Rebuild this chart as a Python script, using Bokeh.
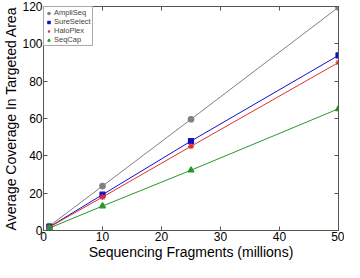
from bokeh.plotting import figure
from bokeh.models import LinearAxis, FixedTicker, Range1d, CustomLabelingPolicy
from bokeh.embed import file_html
from bokeh.resources import INLINE

fragments = [1, 10, 25, 50]
ampliseq = [2.4, 23.8, 59.6, 119.6]
sureselect = [1.9, 19.2, 47.9, 93.8]
haloplex = [1.8, 17.9, 45.1, 90.0]
seqcap = [1.3, 13.1, 32.3, 65.2]
x_ticks = [0, 10, 20, 30, 40, 50]
y_ticks = [0, 20, 40, 60, 80, 100, 120]

FONT = "Liberation Sans"
AX = "#555555"

p = figure(width=344, height=262, output_backend="svg", toolbar_location=None,
           x_range=Range1d(0, 50), y_range=Range1d(0, 120))
p.min_border_left = 0
p.min_border_right = 6
p.min_border_top = 6
p.min_border_bottom = 0
p.grid.visible = False
p.outline_line_color = AX
p.background_fill_color = "white"
p.border_fill_color = "white"

for ax in (p.xaxis[0], p.yaxis[0]):
    ax.major_tick_in = 4
    ax.major_tick_out = 0
    ax.minor_tick_in = 0
    ax.minor_tick_out = 0
    ax.axis_line_color = AX
    ax.major_tick_line_color = AX
    ax.major_label_text_font = FONT
    ax.major_label_text_font_size = "12px"
    ax.major_label_text_color = "black"
    ax.axis_label_text_font = FONT
    ax.axis_label_text_font_size = "14px"
    ax.axis_label_text_font_style = "normal"
    ax.axis_label_text_color = "black"
    ax.major_label_standoff = 1
    ax.axis_label_standoff = 0
p.xaxis[0].ticker = FixedTicker(ticks=x_ticks)
p.yaxis[0].ticker = FixedTicker(ticks=y_ticks)
p.xaxis[0].axis_label = "Sequencing Fragments (millions)"
p.yaxis[0].axis_label = "Average Coverage In Targeted Area"

no_labels = CustomLabelingPolicy(code="return new Set()")
for loc, ticks in (("above", x_ticks), ("right", y_ticks)):
    a = LinearAxis(ticker=FixedTicker(ticks=ticks))
    a.major_tick_in = 4
    a.major_tick_out = 0
    a.minor_tick_in = 0
    a.minor_tick_out = 0
    a.axis_line_color = AX
    a.major_tick_line_color = AX
    a.major_label_text_font_size = "0px"
    a.major_label_policy = no_labels
    a.major_label_standoff = 0
    p.add_layout(a, loc)

series = [
    ("AmpliSeq", ampliseq, "#808080", "circle", 5.5),
    ("SureSelect", sureselect, "#1010c8", "square", 5),
    ("HaloPlex", haloplex, "#e03030", "asterisk", 6),
    ("SeqCap", seqcap, "#2a952a", "triangle", 6),
]
for name, ys, col, mk, sz in series:
    p.line(fragments, ys, line_color=col, line_width=1)
    p.scatter(fragments, ys, marker=mk, size=sz, fill_color=col, line_color=col,
              line_width=1.2, legend_label=name)

lg = p.legend[0]
lg.location = "top_left"
lg.label_text_font = FONT
lg.label_text_font_size = "7.5px"
lg.label_text_line_height = 0.9
lg.label_height = 6
lg.glyph_height = 6
lg.glyph_width = 7
lg.label_standoff = 2
lg.spacing = 0
lg.padding = 1
lg.margin = 0
lg.border_line_color = AX
lg.border_line_width = 1
lg.background_fill_alpha = 1

open("out.html", "w").write(file_html(p, INLINE))
